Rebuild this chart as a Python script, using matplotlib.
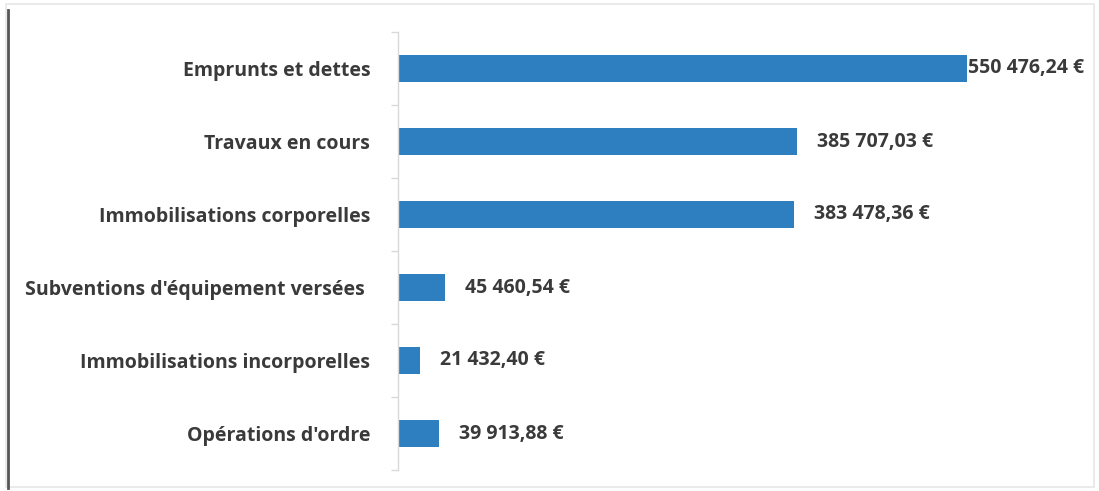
import matplotlib
matplotlib.use("Agg")
import matplotlib.pyplot as plt
from matplotlib.patches import Rectangle
from matplotlib.lines import Line2D

categories = [
    "Emprunts et dettes",
    "Travaux en cours",
    "Immobilisations corporelles",
    "Subventions d'équipement versées ",
    "Immobilisations incorporelles",
    "Opérations d'ordre",
]
values = [550476.24, 385707.03, 383478.36, 45460.54, 21432.40, 39913.88]
value_labels = ["550 476,24 €", "385 707,03 €", "383 478,36 €",
                "45 460,54 €", "21 432,40 €", "39 913,88 €"]

W, H = 1099, 491
fig = plt.figure(figsize=(W / 100, H / 100), dpi=100)
fig.patch.set_facecolor("white")

# axes placement in pixels
x0, x1 = 398, 1090
y_top, y_bot = 32, 470
ax = fig.add_axes([x0 / W, 1 - y_bot / H, (x1 - x0) / W, (y_bot - y_top) / H])

bar_color = "#2E7FC0"
text_color = "#3a3a3a"
font = "Open Sans"
fs = 14

n = len(categories)
ypos = list(range(n))
ax.barh(ypos, values, height=0.38, color=bar_color)
ax.set_ylim(n - 0.5, -0.5)
ax.set_xlim(0, 669500)

ax.set_yticks(ypos)
ax.set_yticklabels(categories, fontsize=fs, color=text_color,
                   fontfamily=font, fontweight="bold")
ax.tick_params(axis="y", length=0, pad=20)
ax.set_yticks([i + 0.5 for i in range(-1, n)], minor=True)
ax.tick_params(axis="y", which="minor", length=5, color="#d9d9d9", width=1)
ax.set_xticks([])

for s in ["top", "right", "bottom"]:
    ax.spines[s].set_visible(False)
ax.spines["left"].set_color("#d9d9d9")
ax.spines["left"].set_linewidth(1)

vmax = max(values)
for y, v, lab in zip(ypos, values, value_labels):
    off = 1 if v == vmax else 20
    ax.annotate(lab, xy=(v, y), xytext=(off, 0), textcoords="offset pixels",
                va="center", ha="left", fontsize=fs, color=text_color,
                fontfamily=font, fontweight="bold", annotation_clip=False)

# frame around figure (light) and darker left edge
fig.add_artist(Rectangle((6 / W, 4 / H), (1094 - 6) / W, (487 - 4) / H,
                         transform=fig.transFigure, fill=False,
                         edgecolor="#e6e6e6", linewidth=1.2))
fig.add_artist(Line2D([8 / W, 8 / W], [1 - 488 / H, 1 - 10 / H],
                      transform=fig.transFigure, color="#555555", linewidth=2))

fig.savefig("out.png", dpi=100, facecolor="white")
